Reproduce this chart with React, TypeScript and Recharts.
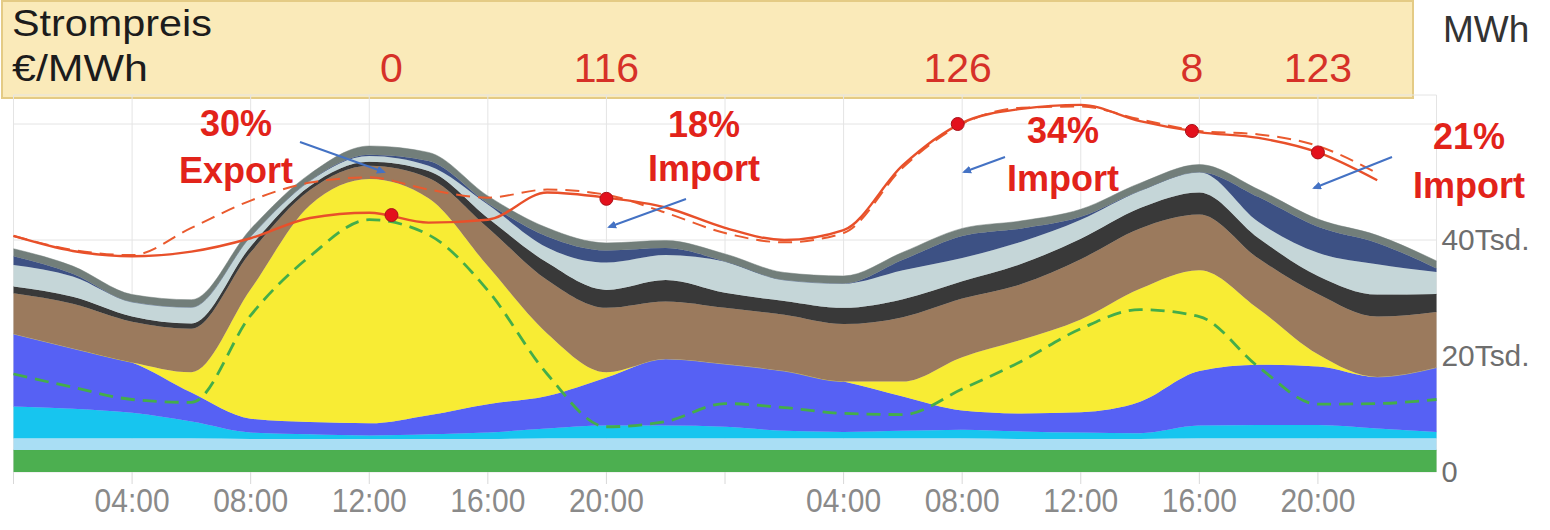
import React from "react";
import { ComposedChart, Area, Line, Scatter, XAxis, YAxis, CartesianGrid } from "recharts";

// two days, every 2 hours, values in MWh
const hours = [0, 2, 4, 6, 8, 10, 12, 14, 16, 18, 20, 22, 24, 26, 28, 30, 32, 34, 36, 38, 40, 42, 44, 46, 48];

const biomass = [3800, 3800, 3800, 3800, 3800, 3800, 3800, 3800, 3800, 3800, 3800, 3800, 3800, 3800, 3800, 3800, 3800, 3800, 3800, 3800, 3800, 3800, 3800, 3800, 3800];
const hydro = [2000, 2000, 2000, 2000, 1900, 1900, 1900, 1900, 1900, 2000, 2000, 2000, 2000, 2000, 2000, 2000, 2000, 1900, 1900, 1900, 2000, 2000, 2000, 2000, 2000];
const offshore = [5500, 5100, 4400, 2900, 1100, 800, 600, 800, 1100, 1700, 2200, 2200, 2000, 1300, 1100, 1300, 1500, 1300, 1100, 1000, 2200, 2300, 2300, 1700, 1100];
const onshore = [12500, 10400, 8700, 5000, 2400, 2100, 2100, 3300, 4900, 5600, 8300, 11500, 10800, 10300, 8700, 5900, 3300, 3100, 3500, 5400, 9400, 10400, 10100, 8900, 11100];
const solar = [0, 0, 0, 3500, 22300, 37400, 42100, 37400, 23800, 10800, 900, 0, 0, 0, 0, 2600, 9200, 12700, 16000, 19500, 17400, 9600, 2100, 0, 0];
const lignite = [7000, 7700, 7000, 7500, 6400, 2600, 2300, 3500, 6600, 9200, 11100, 9900, 9700, 9700, 9900, 11100, 10100, 9600, 10400, 10400, 9600, 8700, 10400, 10400, 9600];
const hardCoal = [1200, 1200, 900, 900, 1000, 700, 700, 1200, 1700, 3000, 3100, 3700, 2600, 2400, 2800, 3100, 3000, 3500, 3500, 3500, 3800, 3500, 3100, 3800, 3100];
const gas = [3700, 3500, 2500, 2800, 1700, 900, 1000, 900, 2300, 2600, 4700, 4300, 5400, 3600, 4200, 5000, 4000, 3800, 3300, 3000, 3500, 2800, 4000, 5200, 3800];
const storage = [1500, 500, 0, 0, 0, 0, 200, 800, 200, 1900, 2100, 1200, 0, 0, 0, 1800, 3800, 2300, 500, 0, 0, 4300, 4500, 3700, 600];
const other = [1300, 1300, 1300, 1300, 1300, 1200, 1500, 1500, 1300, 1500, 1300, 1300, 1300, 1300, 1300, 1300, 1300, 1300, 1300, 1300, 1300, 1300, 1300, 1300, 1300];

const load = [40700, 38100, 37200, 38000, 40300, 43800, 44700, 43000, 43500, 48200, 47300, 45600, 42100, 40000, 41700, 52900, 60200, 62600, 63300, 60500, 58600, 57600, 55100, 50300, null];
const loadForecast = [40700, 38300, 37400, 42100, 46800, 49900, 50800, 48700, 47300, 48700, 47800, 44700, 41200, 39600, 41200, 52500, 60000, 62800, 63000, 60800, 58800, 58200, 56200, 51500, null];
const residual = [16900, 14600, 12500, 12000, 27000, 37200, 43500, 40900, 31300, 16900, 7800, 8700, 11800, 11100, 10100, 9900, 14300, 19100, 24700, 28000, 26800, 18100, 11700, 11800, 12500];

// price marks on the load curve
const markHours = [12.75, 20, 31.85, 39.75, 44];
const markLoad = [44300, 47100, 60000, 58800, 55100];
const markPrice = [0, 116, 126, 8, 123];

const xTicks = [0, 4, 8, 12, 16, 20, 24, 28, 32, 36, 40, 44];
const yTicks = [0, 20000, 40000, 60000];

const flowPct = ["30%", "18%", "34%", "21%"];
const flowDir = ["Export", "Import", "Import", "Import"];

const rows = hours.map((hour, i) => ({
  hour,
  biomass: biomass[i],
  hydro: hydro[i],
  offshore: offshore[i],
  onshore: onshore[i],
  solar: solar[i],
  lignite: lignite[i],
  hardCoal: hardCoal[i],
  gas: gas[i],
  storage: storage[i],
  other: other[i],
  load: load[i],
  loadForecast: loadForecast[i],
  residual: residual[i],
}));

const marks = markHours.map((hour, i) => ({ hour, load: markLoad[i], price: markPrice[i] }));

const layers = [
  { key: "biomass", color: "#4caf50" },
  { key: "hydro", color: "#a9def4" },
  { key: "offshore", color: "#17c5ef" },
  { key: "onshore", color: "#5661f4" },
  { key: "solar", color: "#f8ec34" },
  { key: "lignite", color: "#9b7a5d" },
  { key: "hardCoal", color: "#393939" },
  { key: "gas", color: "#c5d6d8" },
  { key: "storage", color: "#3d5184" },
  { key: "other", color: "#727e7a" },
];

// layout of the annotations (pixels)
const notePos = [
  { x: 236, y1: 136, y2: 183, ax1: 300, ay1: 142, ax2: 384, ay2: 172 },
  { x: 704, y1: 137, y2: 181, ax1: 686, ay1: 199, ax2: 609, ay2: 227 },
  { x: 1063, y1: 143, y2: 191, ax1: 1005, ay1: 157, ax2: 964, ay2: 172 },
  { x: 1469, y1: 149, y2: 198, ax1: 1392, ay1: 157, ax2: 1314, ay2: 188 },
];

const sans = "'Liberation Sans', Arial, sans-serif";
const narrow = "'Liberation Sans Narrow', 'Liberation Sans', Arial, sans-serif";

function HourTick(props: any) {
  const { x, y, payload } = props;
  const h = payload.value % 24;
  if (h === 0) return <g />;
  const label = `${h < 10 ? "0" : ""}${h}:00`;
  return (
    <text x={x} y={y + 26} textAnchor="middle" fontSize={33} fill="#8a8a8a" fontFamily={narrow} textLength={75} lengthAdjust="spacingAndGlyphs">
      {label}
    </text>
  );
}

function MwhTick(props: any) {
  const { x, y, payload } = props;
  const v = payload.value;
  if (v === 60000) return <g />;
  if (v === 0) {
    return (
      <text x={x} y={y} dy="0.36em" fontSize={29} fill="#6e6e6e" fontFamily={narrow}>0</text>
    );
  }
  return (
    <text x={x} y={y} dy="0.36em" fontSize={29} fill="#6e6e6e" fontFamily={narrow} textLength={88} lengthAdjust="spacingAndGlyphs">
      {`${v / 1000}Tsd.`}
    </text>
  );
}

function PriceMark(props: any) {
  const { cx, cy, payload } = props;
  return (
    <g>
      <circle cx={cx} cy={cy} r={6.5} fill="#e3101c" stroke="#a8121a" strokeWidth={1} />
      <text x={cx} y={82} textAnchor="middle" fontSize={41} fill="#d63128" fontFamily={sans}>
        {payload.price}
      </text>
    </g>
  );
}

export default function App() {
  return (
    <div style={{ position: "absolute", left: 0, top: 0, width: 1550, height: 530, background: "#fff", overflow: "hidden" }}>
      <div
        style={{
          position: "absolute",
          left: 1,
          top: 0,
          width: 1413,
          height: 99,
          background: "#faeab9",
          border: "2px solid #e4cb85",
          boxSizing: "border-box",
        }}
      />
      <div style={{ position: "absolute", left: 0, top: 0 }}>
        <ComposedChart width={1550} height={530} data={rows} margin={{ top: 95, right: 0, bottom: 0, left: 13.5 }}>
          <CartesianGrid stroke="#e4e4e4" strokeWidth={1} />
          <XAxis
            dataKey="hour"
            type="number"
            domain={[0, 48]}
            ticks={xTicks}
            interval={0}
            height={58}
            axisLine={false}
            tickLine={{ stroke: "#d8d8d8" }}
            tickSize={12}
            tick={<HourTick />}
          />
          <YAxis
            orientation="right"
            type="number"
            domain={[0, 65000]}
            ticks={yTicks}
            interval={0}
            width={113.5}
            axisLine={false}
            tickLine={false}
            tickSize={0}
            tickMargin={5}
            tick={<MwhTick />}
          />
          {layers.map((l) => (
            <Area
              key={l.key}
              dataKey={l.key}
              stackId="gen"
              type="monotone"
              fill={l.color}
              fillOpacity={1}
              stroke={l.color}
              strokeWidth={0.5}
              isAnimationActive={false}
              dot={false}
              activeDot={false}
            />
          ))}
          <Line dataKey="residual" type="monotone" stroke="#44ad4a" strokeWidth={2.8} strokeDasharray="14 8" dot={false} activeDot={false} isAnimationActive={false} />
          <Line dataKey="loadForecast" type="monotone" stroke="#ea5a2e" strokeWidth={2} strokeDasharray="14 8" dot={false} activeDot={false} isAnimationActive={false} />
          <Line dataKey="load" type="monotone" stroke="#e8502a" strokeWidth={2.4} dot={false} activeDot={false} isAnimationActive={false} />
          <Scatter data={marks} dataKey="load" shape={<PriceMark />} isAnimationActive={false} />
        </ComposedChart>
      </div>
      <svg width={1550} height={530} style={{ position: "absolute", left: 0, top: 0, pointerEvents: "none" }}>
        <defs>
          <marker id="arrowHead" markerWidth="9" markerHeight="8" refX="7" refY="4" orient="auto" markerUnits="userSpaceOnUse">
            <path d="M0,0 L9,4 L0,8 z" fill="#4472c4" />
          </marker>
        </defs>
        <text x={12} y={36} fontSize={36} fill="#1c1c1c" fontFamily={sans} textLength={200} lengthAdjust="spacingAndGlyphs">Strompreis</text>
        <text x={12} y={81} fontSize={36} fill="#1c1c1c" fontFamily={sans} textLength={136} lengthAdjust="spacingAndGlyphs">€/MWh</text>
        <text x={1443} y={42} fontSize={37} fill="#333" fontFamily={sans}>MWh</text>
        {notePos.map((p, i) => (
          <g key={i}>
            <text x={p.x} y={p.y1} textAnchor="middle" fontSize={36} fontWeight="bold" fill="#e2231a" fontFamily={sans}>{flowPct[i]}</text>
            <text x={p.x} y={p.y2} textAnchor="middle" fontSize={36} fontWeight="bold" fill="#e2231a" fontFamily={sans}>{flowDir[i]}</text>
            <line x1={p.ax1} y1={p.ay1} x2={p.ax2} y2={p.ay2} stroke="#4472c4" strokeWidth={2} markerEnd="url(#arrowHead)" />
          </g>
        ))}
      </svg>
    </div>
  );
}
